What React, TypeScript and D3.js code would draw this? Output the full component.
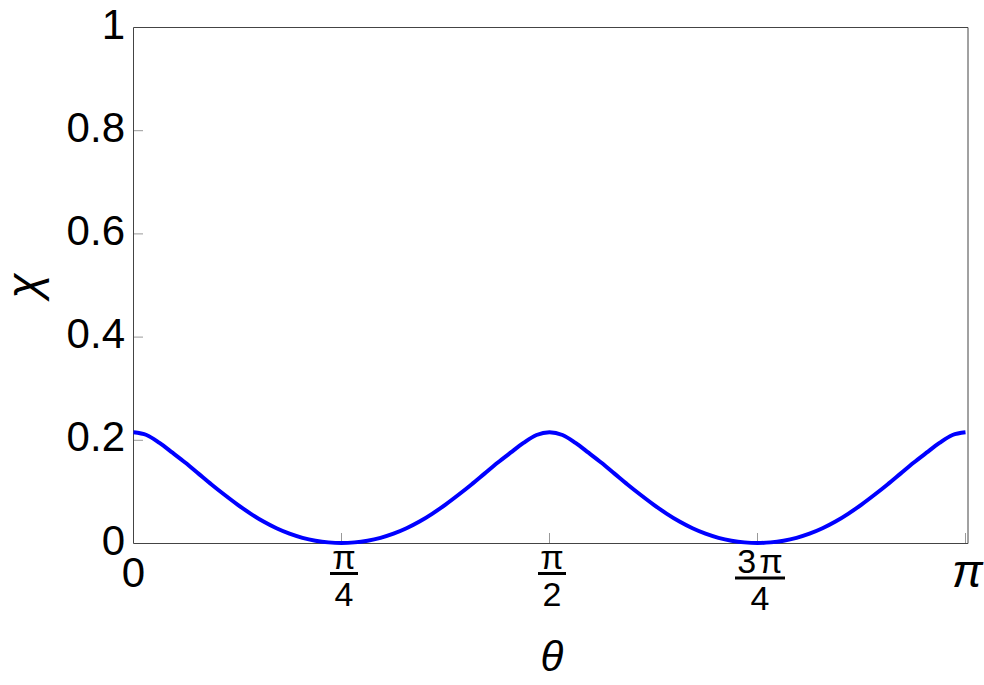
import React from 'react'
import * as d3 from 'd3'

// theta sampled every pi/64 from 0 to pi
const thetaSteps = d3.range(0, 65)
const chiValues = [
  0.2145, 0.2093, 0.194, 0.175, 0.1555, 0.1345, 0.1135, 0.0935, 0.0745,
  0.057, 0.0415, 0.0285, 0.018, 0.01, 0.0045, 0.0012, 0,
  0.0012, 0.0045, 0.01, 0.018, 0.0285, 0.0415, 0.057, 0.0745,
  0.0935, 0.1135, 0.1345, 0.1555, 0.175, 0.194, 0.2093, 0.2145,
  0.2093, 0.194, 0.175, 0.1555, 0.1345, 0.1135, 0.0935, 0.0745,
  0.057, 0.0415, 0.0285, 0.018, 0.01, 0.0045, 0.0012, 0,
  0.0012, 0.0045, 0.01, 0.018, 0.0285, 0.0415, 0.057, 0.0745,
  0.0935, 0.1135, 0.1345, 0.1555, 0.175, 0.194, 0.2093, 0.2145,
]
const yTicks = [0, 0.2, 0.4, 0.6, 0.8, 1]
const yTickLabels = ['0', '0.2', '0.4', '0.6', '0.8', '1']
const xTicks = [0, Math.PI / 4, Math.PI / 2, (3 * Math.PI) / 4, Math.PI]
// [numerator, denominator] or a plain label
const xTickLabels: (string | [string, string])[] = ['0', ['π', '4'], ['π', '2'], ['3π', '4'], 'π']

const W = 984
const H = 685
const font = '"Liberation Sans", Arial, Helvetica, sans-serif'

export default function App() {
  const x = d3.scaleLinear().domain([0, Math.PI]).range([133.5, 965.5])
  const y = d3.scaleLinear().domain([0, 1]).range([543, 27])

  const points = thetaSteps.map((k, i) => [(k * Math.PI) / 64, chiValues[i]] as [number, number])
  const line = d3.line<[number, number]>()
    .x(d => x(d[0]))
    .y(d => y(d[1]))
    .curve(d3.curveCatmullRom.alpha(0.5))

  const left = x(0)
  const right = x(Math.PI) + 2.5
  const top = y(1) + 0.5
  const bottom = y(0) + 0.5

  return (
    <>
      <style>{'body{margin:0}'}</style>
      <svg width={W} height={H} style={{ display: 'block', fontFamily: font }}>
        <rect width={W} height={H} fill="#fff" />

        {/* y ticks, inside the frame */}
        {yTicks.map((t, i) => (
          <g key={'y' + t}>
            {t > 0 && t < 1 && (
              <line x1={left} x2={left + 9.5} y1={y(t) + 0.5} y2={y(t) + 0.5} stroke="#999" strokeWidth={1} />
            )}
            <text x={125} y={y(t) + 11.5} fontSize={42} textAnchor="end" fill="#000">
              {yTickLabels[i]}
            </text>
          </g>
        ))}

        {/* x ticks */}
        {xTicks.map((t, i) => {
          const lab = xTickLabels[i]
          const cx = x(t)
          return (
            <g key={'x' + i}>
              {i > 0 && (
                <line x1={cx} x2={cx} y1={bottom} y2={bottom - 10.5} stroke="#999" strokeWidth={1} />
              )}
              {typeof lab === 'string' ? (
                i === 0 ? (
                  <text x={cx} y={587} fontSize={42} textAnchor="middle">{lab}</text>
                ) : (
                  <text x={cx + 2} y={587} fontSize={46} fontStyle="italic" textAnchor="middle">{lab}</text>
                )
              ) : (
                (() => {
                  const wide = lab[0].length > 1
                  const barY = wide ? 578 : 573.5
                  const bw = wide ? 50 : 28
                  const fx = cx + 2.5
                  return (
                    <g>
                      <text x={fx} y={barY - 5} fontSize={34} textAnchor="middle">
                        {wide ? (
                          <>
                            <tspan>3</tspan>
                            <tspan dx={3}>π</tspan>
                          </>
                        ) : lab[0]}
                      </text>
                      <rect x={fx - bw / 2} y={barY - 1.5} width={bw} height={3} fill="#000" />
                      <text x={fx} y={barY + 32} fontSize={34} textAnchor="middle">{lab[1]}</text>
                    </g>
                  )
                })()
              )}
            </g>
          )
        })}

        {/* frame */}
        <path
          d={`M${left},${top}H${right}V${bottom}H${left}Z`}
          fill="none"
          stroke="#444"
          strokeWidth={1}
        />

        {/* curve */}
        <path d={line(points) ?? ''} fill="none" stroke="#0000ff" strokeWidth={4} />

        {/* axis labels */}
        <text x={552} y={671} fontSize={42} fontStyle="italic" textAnchor="middle">θ</text>
        <text transform="translate(39,286) rotate(-90)" fontSize={46} fontStyle="italic" textAnchor="middle">χ</text>
      </svg>
    </>
  )
}
